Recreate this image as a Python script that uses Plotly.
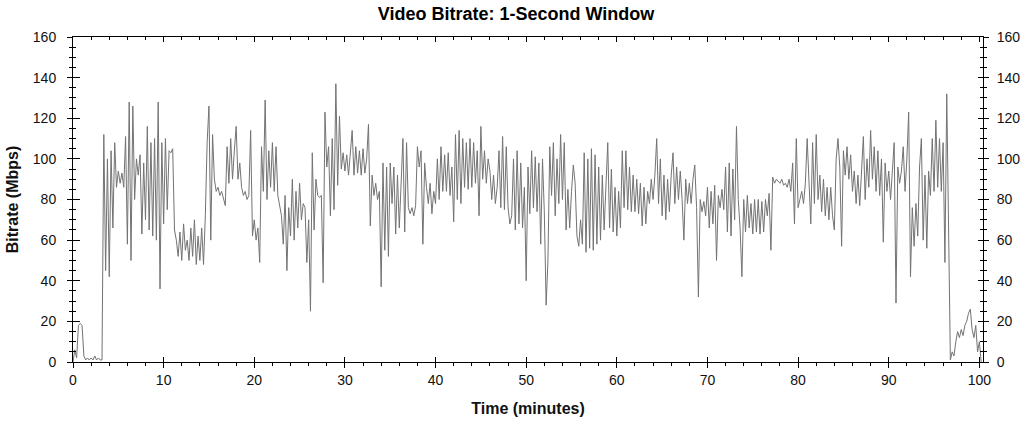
import plotly.graph_objects as go

# Time step between samples (minutes)
STEP_MIN = 0.2

# Bitrate readings (Mbps), one every 0.2 min
bitrate_00_20 = [
    0, 6, 2, 18, 19, 18, 3, 1, 2, 1,
    2, 1, 3, 1, 2, 1, 1, 112, 45, 100,
    42, 104, 66, 108, 86, 94, 88, 93, 86, 111,
    58, 128, 50, 126, 80, 100, 92, 102, 63, 98,
    70, 116, 65, 108, 62, 110, 60, 128, 36, 108,
    68, 110, 75, 104, 103, 105, 65, 60, 52, 64,
    50, 68, 55, 60, 50, 66, 52, 70, 48, 62,
    50, 66, 48, 72, 108, 126, 60, 112, 90, 84,
    86, 82, 84, 80, 77, 106, 88, 110, 90, 104,
    116, 90, 98, 86, 82, 84, 80, 82, 114, 62,
]
bitrate_20_40 = [
    70, 60, 66, 49, 106, 84, 129, 80, 104, 86,
    108, 84, 106, 82, 76, 72, 58, 82, 45, 76,
    62, 90, 60, 84, 66, 88, 70, 78, 76, 49,
    70, 25, 103, 65, 90, 82, 81, 82, 39, 123,
    96, 106, 72, 110, 75, 137, 87, 121, 95, 103,
    94, 102, 92, 104, 114, 92, 106, 93, 104, 92,
    105, 93, 100, 117, 67, 92, 82, 88, 80, 84,
    37, 98, 55, 96, 52, 98, 78, 96, 63, 92,
    66, 88, 110, 64, 108, 76, 73, 76, 72, 77,
    106, 96, 104, 58, 98, 86, 78, 88, 73, 84,
]
bitrate_40_60 = [
    78, 100, 80, 106, 84, 102, 84, 103, 82, 96,
    69, 112, 80, 114, 78, 110, 86, 108, 85, 110,
    86, 108, 88, 104, 72, 116, 90, 104, 88, 100,
    94, 80, 92, 78, 86, 104, 76, 111, 75, 106,
    76, 68, 72, 100, 65, 104, 68, 98, 66, 86,
    40, 96, 73, 104, 76, 101, 74, 98, 58, 100,
    74, 28, 50, 106, 82, 108, 72, 100, 78, 112,
    80, 108, 65, 85, 66, 84, 97, 88, 62, 57,
    70, 58, 103, 54, 100, 56, 105, 55, 102, 58,
    96, 60, 92, 65, 90, 108, 66, 95, 64, 86,
]
bitrate_60_80 = [
    62, 84, 66, 104, 76, 104, 75, 96, 74, 92,
    74, 90, 73, 88, 67, 86, 68, 84, 78, 90,
    80, 92, 110, 78, 100, 72, 92, 70, 90, 74,
    92, 103, 78, 96, 80, 94, 80, 60, 90, 78,
    88, 78, 90, 97, 76, 32, 80, 74, 79, 72,
    86, 66, 84, 68, 87, 50, 82, 76, 85, 75,
    96, 64, 98, 62, 95, 70, 116, 80, 66, 42,
    80, 64, 82, 66, 78, 63, 80, 64, 80, 63,
    79, 64, 80, 72, 83, 55, 91, 88, 90, 89,
    88, 90, 87, 88, 86, 90, 84, 98, 68, 110,
]
bitrate_80_end = [
    76, 80, 84, 78, 88, 110, 84, 68, 108, 78,
    112, 80, 92, 74, 90, 72, 86, 70, 86, 72,
    65, 100, 110, 96, 57, 104, 92, 106, 90, 102,
    84, 94, 78, 92, 77, 96, 111, 80, 100, 86,
    114, 90, 106, 84, 104, 82, 100, 59, 98, 84,
    94, 80, 96, 108, 29, 96, 88, 94, 106, 84,
    100, 123, 42, 76, 57, 78, 62, 96, 110, 60,
    92, 56, 94, 82, 110, 84, 119, 86, 110, 84,
    108, 49, 132, 62, 1, 5, 3, 10, 15, 12,
    16, 13, 18, 20, 24, 26, 16, 12, 18, 5,
    10, 0,
]

bitrate = bitrate_00_20 + bitrate_20_40 + bitrate_40_60 + bitrate_60_80 + bitrate_80_end
minutes = [round(i * STEP_MIN, 2) for i in range(len(bitrate))]

x_ticks = [0, 10, 20, 30, 40, 50, 60, 70, 80, 90, 100]
y_ticks = [0, 20, 40, 60, 80, 100, 120, 140, 160]
X_RANGE = [0, 100.4]
Y_RANGE = [0, 160]

FONT = "Liberation Sans, Arial, sans-serif"
AX = "#000000"

fig = go.Figure()
fig.add_trace(go.Scatter(
    x=minutes, y=bitrate, mode="lines",
    line=dict(color="#737373", width=1),
    hoverinfo="skip", showlegend=False,
))

# invisible anchor traces so the overlaid tick axes are drawn
for xa, ya in [("x2", "y"), ("x3", "y"), ("x", "y2"), ("x", "y3"), ("x", "y4")]:
    fig.add_trace(go.Scatter(x=[0], y=[0], xaxis=xa, yaxis=ya, mode="markers",
                             marker=dict(opacity=0, size=1), hoverinfo="skip",
                             showlegend=False))

common = dict(showgrid=False, zeroline=False, linecolor=AX, linewidth=1,
              tickcolor=AX, tickwidth=1, automargin=False)

fig.update_layout(
    width=1032, height=425,
    margin=dict(l=73, r=49, t=37, b=63),
    paper_bgcolor="white", plot_bgcolor="white",
    font=dict(family=FONT, size=14, color="#111111"),
    showlegend=False,
    hovermode=False,
    title=dict(text="<b>Video Bitrate: 1-Second Window</b>",
               font=dict(family=FONT, size=18, color="#000000"),
               x=0.5, xref="container", xanchor="center",
               y=1 - 14 / 425, yref="container", yanchor="middle"),
    xaxis=dict(range=X_RANGE, tickvals=x_ticks, ticks="outside", ticklen=5,
               showline=True, anchor="y",
               minor=dict(dtick=2, ticks="outside", ticklen=3, tickcolor=AX),
               title=dict(text="<b>Time (minutes)</b>", font=dict(size=16),
                          standoff=16),
               **common),
    xaxis2=dict(range=X_RANGE, tickvals=x_ticks, ticks="inside", ticklen=5,
                showline=False, overlaying="x", anchor="y", side="bottom",
                showticklabels=False, **common),
    xaxis3=dict(range=X_RANGE, tickvals=x_ticks, ticks="inside", ticklen=5,
                showline=True, overlaying="x", anchor="y", side="top",
                showticklabels=False,
                minor=dict(dtick=2, ticks="inside", ticklen=3, tickcolor=AX),
                **common),
    yaxis=dict(range=Y_RANGE, tickvals=y_ticks, ticks="outside", ticklen=5,
               showline=True, anchor="x",
               minor=dict(dtick=5, ticks="outside", ticklen=3, tickcolor=AX),
               title=dict(text="<b>Bitrate (Mbps)</b>", font=dict(size=16),
                          standoff=10),
               ticklabelstandoff=8,
               **common),
    yaxis2=dict(range=Y_RANGE, tickvals=y_ticks, ticks="inside", ticklen=7,
                showline=False, overlaying="y", anchor="x", side="left",
                showticklabels=False,
                minor=dict(dtick=5, ticks="inside", ticklen=3, tickcolor=AX),
                **common),
    yaxis3=dict(range=Y_RANGE, tickvals=y_ticks, ticks="outside", ticklen=5,
                showline=True, overlaying="y", anchor="x", side="right",
                showticklabels=True, ticklabelstandoff=5,
                minor=dict(dtick=5, ticks="outside", ticklen=3, tickcolor=AX),
                **common),
    yaxis4=dict(range=Y_RANGE, tickvals=y_ticks, ticks="inside", ticklen=5,
                showline=False, overlaying="y", anchor="x", side="right",
                showticklabels=False,
                minor=dict(dtick=5, ticks="inside", ticklen=3, tickcolor=AX),
                **common),
)

fig.write_html("out.html",
               config={"displayModeBar": False, "staticPlot": True},
               post_script="document.body.style.margin='0';document.body.style.padding='0';")
